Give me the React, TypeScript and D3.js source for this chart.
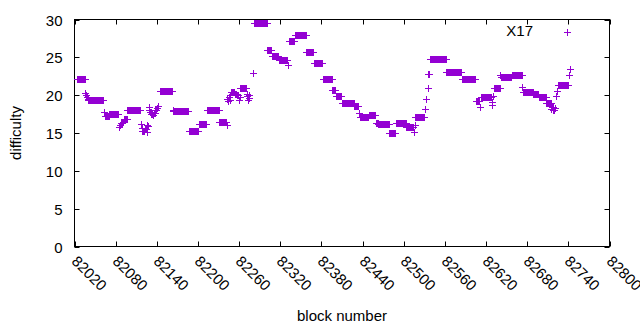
import { useEffect, useRef } from "react";
import * as d3 from "d3";

// runs of consecutive blocks sharing one difficulty value: first block, last block, difficulty
const runFirst = [
  82023, 82036, 82037, 82038, 82039, 82040, 82063, 82064, 82071, 82085, 82086, 82088, 82090, 82092,
  82097, 82117, 82118, 82119, 82123, 82125, 82126, 82127, 82128, 82129, 82130, 82132, 82134, 82136,
  82138, 82140, 82142, 82145, 82163, 82164, 82165, 82187, 82201, 82213, 82231, 82242, 82243, 82244,
  82245, 82246, 82247, 82248, 82254, 82257, 82260, 82261, 82262, 82271, 82272, 82273, 82274, 82275,
  82280, 82282, 82301, 82308, 82318, 82331, 82332, 82341, 82358, 82369, 82382, 82396, 82401, 82410,
  82428, 82435, 82436, 82449, 82459, 82463, 82479, 82488, 82504, 82515, 82516, 82517, 82531, 82533,
  82535, 82536, 82538, 82562, 82585, 82605, 82611, 82612, 82628, 82629, 82630, 82631, 82641, 82642,
  82658, 82673, 82674, 82675, 82689, 82697, 82708, 82715, 82716, 82718, 82720, 82722, 82724, 82725,
  82741, 82742,
];
const runLast = [
  82035, 82036, 82037, 82038, 82039, 82062, 82063, 82070, 82084, 82085, 82087, 82089, 82091, 82096,
  82116, 82117, 82118, 82122, 82124, 82125, 82126, 82127, 82128, 82129, 82131, 82133, 82135, 82137,
  82139, 82141, 82142, 82162, 82163, 82164, 82186, 82200, 82212, 82230, 82241, 82242, 82243, 82244,
  82245, 82246, 82247, 82253, 82256, 82259, 82260, 82261, 82270, 82271, 82272, 82273, 82274, 82275,
  82280, 82300, 82307, 82317, 82330, 82331, 82340, 82357, 82368, 82381, 82395, 82400, 82409, 82427,
  82434, 82435, 82448, 82458, 82462, 82478, 82487, 82503, 82514, 82515, 82516, 82530, 82531, 82533,
  82535, 82537, 82561, 82584, 82604, 82610, 82611, 82627, 82628, 82629, 82630, 82640, 82641, 82657,
  82672, 82673, 82674, 82688, 82696, 82707, 82714, 82715, 82717, 82719, 82720, 82722, 82724, 82740,
  82741, 82742,
];
const runDifficulty = [
  22.2, 20.3, 20.0, 19.7, 19.5, 19.3, 17.8, 17.3, 17.5, 15.8, 16.0, 16.3, 16.5, 16.8,
  18.1, 16.2, 15.6, 15.3, 15.5, 15.1, 16.1, 15.9, 18.5, 18.1, 17.8, 17.5, 17.35, 17.7,
  18.0, 18.3, 18.6, 20.6, 18.1, 17.9, 17.85, 15.2, 16.2, 18.1, 16.5, 16.0, 19.5, 19.2,
  19.8, 19.3, 20.0, 20.4, 20.2, 20.0, 19.3, 19.7, 21.0, 19.9, 20.2, 19.3, 20.0, 19.6,
  22.9, 29.6, 26.0, 25.2, 24.7, 24.0, 27.2, 27.9, 25.65, 24.2, 22.1, 20.7, 19.85, 19.0,
  18.6, 17.6, 17.05, 17.35, 16.3, 16.15, 15.0, 16.3, 15.75, 15.1, 16.1, 17.1, 18.2, 19.55,
  20.9, 22.75, 24.75, 23.1, 22.2, 19.2, 18.4, 19.8, 19.1, 18.7, 19.9, 20.9, 22.7, 22.4,
  22.7, 21.1, 20.4, 20.45, 20.1, 19.75, 19.0, 18.2, 18.5, 18.0, 18.3, 19.85, 20.6, 21.4,
  22.65, 23.4,
];

const xTicks = [82020, 82080, 82140, 82200, 82260, 82320, 82380, 82440, 82500, 82560, 82620, 82680, 82740, 82800];
const yTicks = [0, 5, 10, 15, 20, 25, 30];
const seriesName = "X17";

const FONT = "'Liberation Sans', Arial, sans-serif";
const COLOR = "#9400d3";

const plusPath = (x: number, y: number, s = 3.5) => {
  const cx = Math.round(x) + 0.5;
  const cy = Math.round(y) + 0.5;
  return `M${cx - s},${cy}H${cx + s}M${cx},${cy - s}V${cy + s}`;
};

export default function App() {
  const ref = useRef<SVGSVGElement>(null);

  useEffect(() => {
    if (!ref.current) return;
    const svg = d3.select(ref.current);
    svg.selectAll("*").remove();

    const left = 74.5;
    const right = 609.5;
    const top = 19.5;
    const bottom = 246.5;

    const x = d3.scaleLinear().domain([82020, 82800]).range([left, right]);
    const y = d3.scaleLinear().domain([0, 30]).range([bottom, top]);

    const points = runFirst.flatMap((first, i) =>
      d3.range(first, runLast[i] + 1).map((block) => ({ block, difficulty: runDifficulty[i] })),
    );

    const g = svg.append("g").attr("font-family", FONT).attr("font-size", 15).attr("fill", "#000");

    // ticks (inward, mirrored)
    const tickLen = 5;
    xTicks.forEach((t) => {
      const px = Math.round(x(t)) + 0.5;
      g.append("line").attr("x1", px).attr("x2", px).attr("y1", bottom).attr("y2", bottom - tickLen).attr("stroke", "#000");
      g.append("line").attr("x1", px).attr("x2", px).attr("y1", top).attr("y2", top + tickLen).attr("stroke", "#000");
      g.append("text")
        .attr("transform", `translate(${px - 1},${bottom + 12}) rotate(45)`)
        .attr("text-anchor", "start")
        .attr("dy", "0.35em")
        .text(String(t));
    });
    yTicks.forEach((t) => {
      const py = Math.round(y(t)) + 0.5;
      g.append("line").attr("x1", left).attr("x2", left + tickLen).attr("y1", py).attr("y2", py).attr("stroke", "#000");
      g.append("line").attr("x1", right).attr("x2", right - tickLen).attr("y1", py).attr("y2", py).attr("stroke", "#000");
      g.append("text").attr("x", left - 12).attr("y", py).attr("dy", "0.35em").attr("text-anchor", "end").text(String(t));
    });

    g.append("rect")
      .attr("x", left)
      .attr("y", top)
      .attr("width", right - left)
      .attr("height", bottom - top)
      .attr("fill", "none")
      .attr("stroke", "#000");

    g.append("text")
      .attr("transform", `translate(21,${(top + bottom) / 2}) rotate(-90)`)
      .attr("text-anchor", "middle")
      .text("difficulty");
    g.append("text")
      .attr("x", (left + right) / 2)
      .attr("y", 321)
      .attr("text-anchor", "middle")
      .text("block number");

    g.append("g")
      .selectAll("path")
      .data(points)
      .join("path")
      .attr("d", (d) => plusPath(x(d.block), y(d.difficulty)))
      .attr("stroke", COLOR)
      .attr("fill", "none");

    // key
    g.append("text").attr("x", 533).attr("y", 31).attr("dy", "0.35em").attr("text-anchor", "end").text(seriesName);
    g.append("path").attr("d", plusPath(567, 32)).attr("stroke", COLOR).attr("fill", "none");
  }, []);

  return (
    <svg
      ref={ref}
      width={640}
      height={330}
      style={{ position: "absolute", left: 0, top: 0, background: "#fff" }}
    />
  );
}
